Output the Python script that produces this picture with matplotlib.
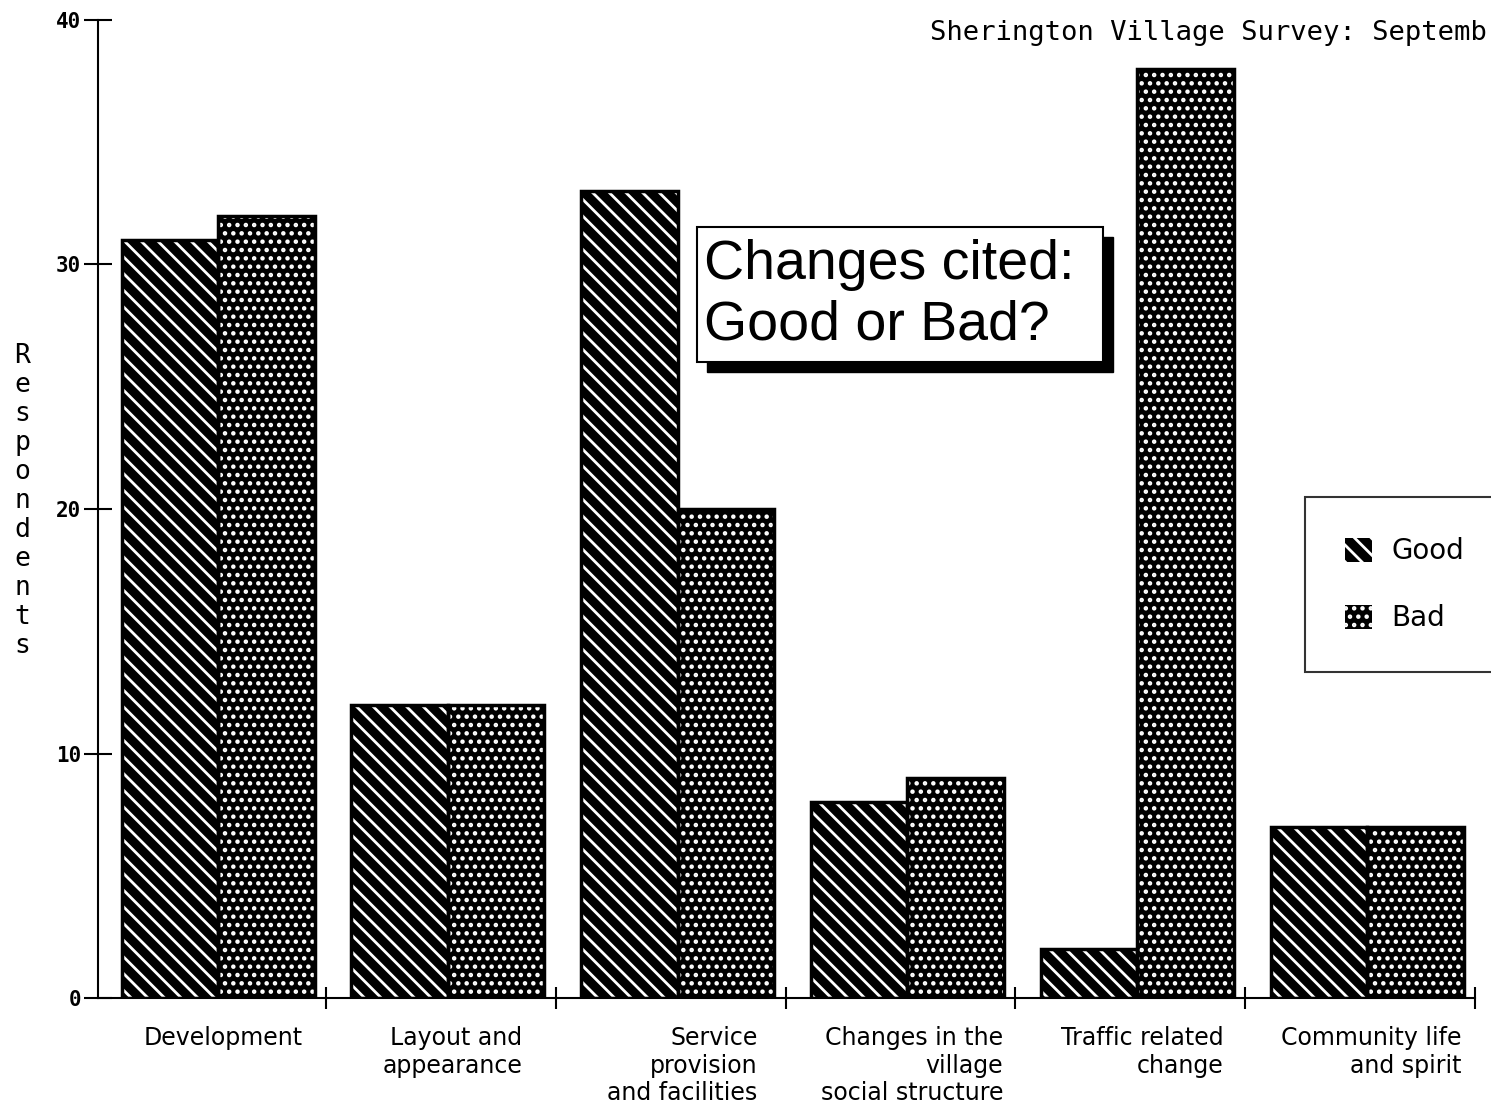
import numpy as np
import matplotlib
matplotlib.use("Agg")
import matplotlib.pyplot as plt
from matplotlib.patches import Patch, Rectangle

# Survey data
categories = ["Development", "Layout and\nappearance", "Service\nprovision\nand facilities",
              "Changes in the\nvillage\nsocial structure", "Traffic related\nchange",
              "Community life\nand spirit"]
good = [31, 12, 33, 8, 2, 7]
bad = [32, 12, 20, 9, 38, 7]
yticks = [0, 10, 20, 30, 40]

plt.rcParams["hatch.linewidth"] = 2.0
mono = "DejaVu Sans Mono"

fig = plt.figure(figsize=(14.91, 11.04), dpi=100)
ax = fig.add_axes([98 / 1491, 1 - 998 / 1104, (1475 - 98) / 1491, (998 - 20) / 1104])

x = np.arange(len(categories))
w = 0.42

# patterned fill (white hatch on black), then black outline on top
ax.bar(x - w / 2, good, w, color="black", edgecolor="white", hatch="\\\\", linewidth=0)
ax.bar(x + w / 2, bad, w, color="black", edgecolor="white", hatch="..", linewidth=0)
ax.bar(x - w / 2, good, w, fill=False, edgecolor="black", linewidth=2.5)
ax.bar(x + w / 2, bad, w, fill=False, edgecolor="black", linewidth=2.5)

ax.set_xlim(-0.523, 5.47)
ax.set_ylim(0, 40)
for s in ["top", "right"]:
    ax.spines[s].set_visible(False)
for s in ["left", "bottom"]:
    ax.spines[s].set_linewidth(1.5)

ax.set_yticks(yticks)
ax.set_yticklabels([str(v) for v in yticks], fontfamily=mono, fontsize=15, fontweight="bold")
ax.tick_params(axis="y", direction="inout", length=20, width=1.5, pad=2)

ax.set_xticks(x + 0.02)
ax.set_xticklabels(categories, fontfamily="DejaVu Sans", fontsize=17, multialignment="right")
ax.tick_params(axis="x", which="major", length=0, pad=20)
ax.set_xticks(x + 0.47, minor=True)
ax.tick_params(axis="x", which="minor", direction="inout", length=16, width=1.5)

# y label as stacked letters
fig.text(22 / 1491, 1 - 501 / 1104, "\n".join("Respondents"), fontfamily=mono,
         fontsize=19, ha="center", va="center", linespacing=1.15)

# title, cut at the page edge as in the original
fig.text(930 / 1491, 1 - 33 / 1104, "Sherington Village Survey: Septemb",
         fontfamily=mono, fontsize=19.6, ha="left", va="center")

# boxed caption with drop shadow
fig.patches.append(Rectangle((707 / 1491, 1 - 372 / 1104), 406 / 1491, 135 / 1104,
                             transform=fig.transFigure, facecolor="black", edgecolor="black"))
fig.patches.append(Rectangle((697 / 1491, 1 - 362 / 1104), 406 / 1491, 135 / 1104,
                             transform=fig.transFigure, facecolor="white", edgecolor="black",
                             linewidth=1.5))
fig.text(704 / 1491, 1 - 295 / 1104, "Changes cited:\nGood or Bad?", fontfamily="Liberation Sans",
         fontsize=40, ha="left", va="center", linespacing=1.2)

handles = [Patch(facecolor="black", edgecolor="white", hatch="\\\\", linewidth=0, label="Good"),
           Patch(facecolor="black", edgecolor="white", hatch="..", linewidth=0, label="Bad")]
leg = fig.legend(handles=handles, loc="upper left", bbox_to_anchor=(1305 / 1491, 1 - 497 / 1104),
                 fontsize=20, frameon=True, fancybox=False, borderpad=1.45, labelspacing=1.4,
                 handlelength=0.95, handleheight=0.95, handletextpad=0.7, borderaxespad=0)
leg.get_frame().set_edgecolor("black")
leg.get_frame().set_linewidth(1.5)

fig.savefig("out.png", dpi=100)
